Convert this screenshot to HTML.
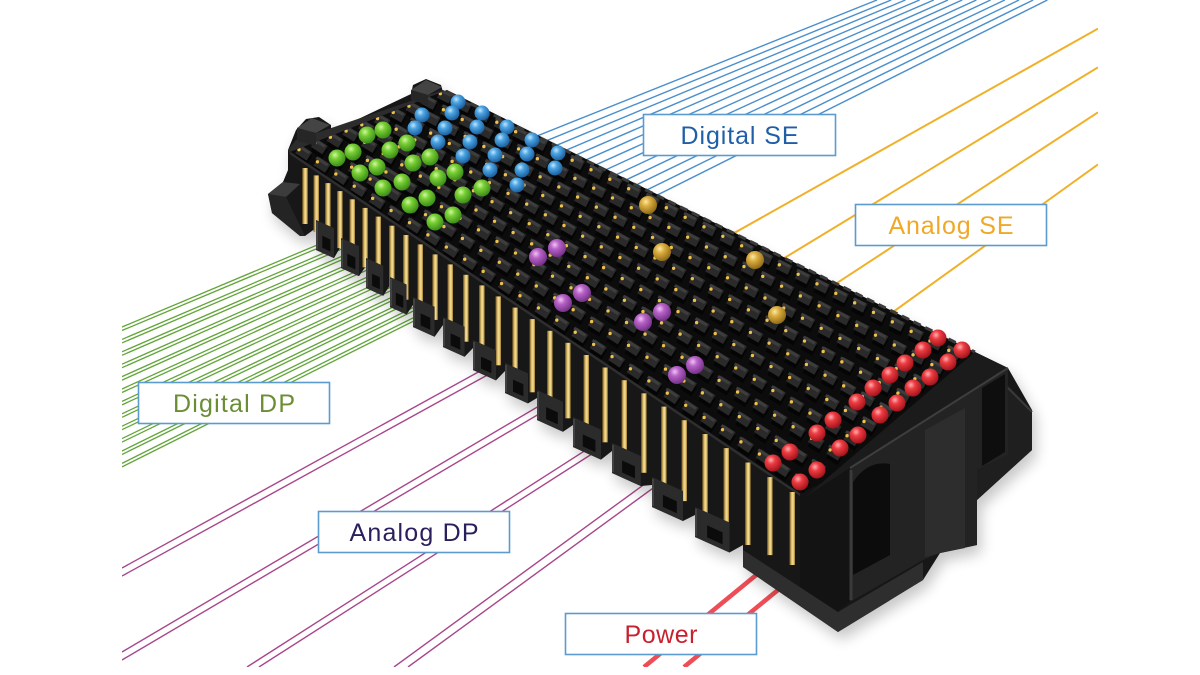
<!DOCTYPE html>
<html><head><meta charset="utf-8"><style>
html,body{margin:0;padding:0;background:#fff;width:1200px;height:675px;overflow:hidden}
svg{display:block}
text{font-family:"Liberation Sans",sans-serif;font-size:25px}
</style></head><body>
<svg width="1200" height="675" viewBox="0 0 1200 675" xmlns="http://www.w3.org/2000/svg">
<defs>
<clipPath id="cl"><rect x="122" y="0" width="976" height="667"/></clipPath>
<clipPath id="topc"><polygon points="290,152 447,90 975,352 805,497"/></clipPath>
<filter id="bl" x="-10%" y="-10%" width="120%" height="130%"><feGaussianBlur stdDeviation="7"/></filter>
<radialGradient id="gb" cx="38%" cy="32%" r="70%"><stop offset="0" stop-color="#c4e6ff"/><stop offset=".35" stop-color="#4ba4e2"/><stop offset="1" stop-color="#1a5c9c"/></radialGradient>
<radialGradient id="gg" cx="38%" cy="32%" r="70%"><stop offset="0" stop-color="#d4f7a0"/><stop offset=".35" stop-color="#78cf35"/><stop offset="1" stop-color="#3a8a16"/></radialGradient>
<radialGradient id="gp" cx="38%" cy="32%" r="70%"><stop offset="0" stop-color="#f0c4f4"/><stop offset=".35" stop-color="#b862c8"/><stop offset="1" stop-color="#723085"/></radialGradient>
<radialGradient id="gy" cx="38%" cy="32%" r="70%"><stop offset="0" stop-color="#fbe9a6"/><stop offset=".35" stop-color="#dcae40"/><stop offset="1" stop-color="#8e6a16"/></radialGradient>
<radialGradient id="gr" cx="38%" cy="32%" r="70%"><stop offset="0" stop-color="#ffb0b0"/><stop offset=".35" stop-color="#ec3c42"/><stop offset="1" stop-color="#a2121a"/></radialGradient>
<linearGradient id="pin" x1="0" x2="1" y1="0" y2="0"><stop offset="0" stop-color="#6e5420"/><stop offset=".4" stop-color="#e9c872"/><stop offset=".65" stop-color="#f5dd96"/><stop offset="1" stop-color="#9c7a2c"/></linearGradient>
<path id="sil" d="M296,130 L306,119 L319,117 L331,125 L331,132 L411,94 L413,85 L426,79 L441,85 L443,92 L975,352 L1008,368 L1032,410 L1032,450 L977,500 L977,545 L940,553 L923,580 L838,632 L743,567 L743,545 L729.5,552.5 L695,537 L695,515 L683,521 L652,507 L652,485 L640.8,486 L612,473 L612,451 L601,459.6 L573,447 L573,425 L563,431.7 L537,420 L537,398 L528,403.4 L505,393 L505,371 L496,380.4 L473,370 L473,348 L464.6,356.7 L443,347 L443,325 L434.6,336.7 L413,327 L413,305 L406.6,314.5 L390,307 L390,285 L383.3,295.8 L366,288 L366,266 L359,276.1 L341,268 L341,246 L334,258.1 L316,250 L316,228 L305,236 L300,236 L272,213 L268,194 L283,182 L288,170 L288,150 Z"/>
<g id="rp">
<path pathLength="28" d="M297.9 148.9L813.5 489.8"/>
<path pathLength="28" d="M313.6 142.7L830.5 475.3"/>
<path pathLength="28" d="M329.3 136.5L847.5 460.8"/>
<path pathLength="28" d="M345 130.3L864.5 446.3"/>
<path pathLength="28" d="M360.7 124.1L881.5 431.8"/>
<path pathLength="28" d="M376.4 117.9L898.5 417.3"/>
<path pathLength="28" d="M392.1 111.7L915.5 402.8"/>
<path pathLength="28" d="M407.8 105.5L932.5 388.3"/>
<path pathLength="28" d="M423.5 99.3L949.5 373.8"/>
<path pathLength="28" d="M439.2 93.1L966.5 359.3"/>
</g>
</defs>

<rect width="1200" height="675" fill="#fff"/>

<!-- lines -->
<g clip-path="url(#cl)" fill="none">
<g stroke="#4a8fcc" stroke-width="1.4">
<path d="M500 150.8L877 0"/><path d="M500 159.7L891.2 0"/><path d="M500 168.9L905.4 0"/><path d="M500 178.3L919.6 0"/><path d="M500 188L933.8 0"/><path d="M500 197.9L948 0"/><path d="M500 208L962.2 0"/><path d="M500 218.3L976.4 0"/><path d="M500 229L990.6 0"/><path d="M500 239.8L1004.8 0"/><path d="M500 250.8L1019 0"/><path d="M500 262.2L1033.2 0"/><path d="M500 273.7L1047.4 0"/>
</g>
<g stroke="#f0b12a" stroke-width="2">
<path d="M700 252.2L1098 28.6"/><path d="M750 278.9L1098 67.3"/><path d="M800 307.2L1098 112.3"/><path d="M860 335.8L1098 164.4"/>
</g>
<g stroke="#62a53a" stroke-width="1.3">
<path d="M122 327L450 189.2"/><path d="M122 330.5L450 192.7"/>
<path d="M122 339.4L450 199.2"/><path d="M122 342.9L450 202.7"/>
<path d="M122 351.8L450 209.3"/><path d="M122 355.3L450 212.8"/>
<path d="M122 364.2L450 219.3"/><path d="M122 367.7L450 222.8"/>
<path d="M122 376.6L450 229.3"/><path d="M122 380.1L450 232.8"/>
<path d="M122 389L450 239.3"/><path d="M122 392.5L450 242.8"/>
<path d="M122 401.4L450 249.3"/><path d="M122 404.9L450 252.8"/>
<path d="M122 413.8L450 259.3"/><path d="M122 417.3L450 262.8"/>
<path d="M122 426.2L450 269.4"/><path d="M122 429.7L450 272.9"/>
<path d="M122 438.6L450 279.4"/><path d="M122 442.1L450 282.9"/>
<path d="M122 451L450 289.4"/><path d="M122 454.5L450 292.9"/>
<path d="M122 463.4L450 299.4"/><path d="M122 466.9L450 302.9"/>
</g>
<g stroke="#a8468a" stroke-width="1.4">
<path d="M122 568L560 327.1"/><path d="M122 576L560 335.1"/>
<path d="M122 652L600 370"/><path d="M122 660L600 378"/>
<path d="M247 667L650 409"/><path d="M259 667L650 416.8"/>
<path d="M394 667L700 443.6"/><path d="M408 667L700 453.8"/>
</g>
<g stroke="#ec3a42" stroke-width="4.5" stroke-opacity=".9">
<path d="M644 667L790 547.3"/><path d="M684 667L790 580.1"/>
</g>
</g>

<!-- shadow -->
<use href="#sil" transform="translate(4,8)" fill="#000" opacity=".22" filter="url(#bl)"/>
<!-- body -->
<use href="#sil" fill="#171717"/>

<!-- left end wall top -->
<polygon points="288,150 296,140 443,90 447,92 447,96 292,156" fill="#2c2c2c"/>

<!-- top surface -->
<polygon points="290,152 447,90 975,352 805,497" fill="#0c0c0c"/>
<g clip-path="url(#topc)" fill="none">
<use href="#rp" transform="translate(0,4)" stroke="#050505" stroke-width="11" stroke-dasharray="0.62 0.38"/>
<use href="#rp" stroke="#2a2a2a" stroke-width="10" stroke-dasharray="0.62 0.38"/>
<use href="#rp" transform="translate(0,-3.5)" stroke="#3d3d3d" stroke-width="3" stroke-dasharray="0.62 0.38"/>
<use href="#rp" stroke="#efc04a" stroke-width="3.4" stroke-linecap="round" stroke-dasharray="0 1" stroke-dashoffset="-0.06"/>
</g>
<path d="M447 92L975 352" stroke="#3a3a3a" stroke-width="3" stroke-dasharray="8 5" fill="none"/>
<path d="M290 153L805 498" stroke="#2e2e2e" stroke-width="2.5" fill="none"/>

<!-- pins -->
<g fill="url(#pin)">
<rect x="302.25" y="168" width="5.5" height="56"/>
<rect x="313.5" y="175.4" width="5.5" height="56.4"/>
<rect x="325.1" y="183.1" width="5.5" height="56.4"/>
<rect x="337.1" y="191.1" width="5.5" height="57"/>
<rect x="349.5" y="199.3" width="5.5" height="58.3"/>
<rect x="362.3" y="207.9" width="5.5" height="59.5"/>
<rect x="375.5" y="216.6" width="5.5" height="60.7"/>
<rect x="389.1" y="225.7" width="5.5" height="62.4"/>
<rect x="403.1" y="235" width="5.5" height="64.7"/>
<rect x="417.5" y="244.4" width="5.5" height="66"/>
<rect x="432.3" y="254.4" width="5.5" height="65.5"/>
<rect x="447.5" y="264.4" width="5.5" height="65.8"/>
<rect x="463.1" y="274.8" width="5.5" height="66.9"/>
<rect x="479.1" y="285.4" width="5.5" height="68.1"/>
<rect x="495.5" y="296.4" width="5.5" height="68.9"/>
<rect x="512.3" y="307.6" width="5.5" height="70.4"/>
<rect x="529.5" y="319.1" width="5.5" height="73.2"/>
<rect x="547.1" y="330.8" width="5.5" height="74.3"/>
<rect x="565.1" y="342.8" width="5.5" height="75.5"/>
<rect x="583.5" y="355" width="5.5" height="75.4"/>
<rect x="602.3" y="367.5" width="5.5" height="74.8"/>
<rect x="621.5" y="380.2" width="5.5" height="76.5"/>
<rect x="641.1" y="393.3" width="5.5" height="79.5"/>
<rect x="661.1" y="406.6" width="5.5" height="80.8"/>
<rect x="681.5" y="420.2" width="5.5" height="80.9"/>
<rect x="702.3" y="434" width="5.5" height="80.6"/>
<rect x="723.5" y="448.1" width="5.5" height="79.2"/>
<rect x="745.1" y="462.5" width="5.5" height="82.5"/>
<rect x="767.1" y="477.1" width="5.5" height="78"/>
<rect x="789.5" y="492" width="5.5" height="73"/>
</g>

<!-- front bottom blocks -->
<g fill="#2b2b2b">
<polygon points="316,250 334,258.1 334,228.1 316,220"/>
<polygon points="341,268 359,276.1 359,246.1 341,238"/>
<polygon points="366,288 383.3,295.8 383.3,265.8 366,258"/>
<polygon points="390,307 406.6,314.5 406.6,284.5 390,277"/>
<polygon points="413,327 434.6,336.7 434.6,306.7 413,297"/>
<polygon points="443,347 464.6,356.7 464.6,326.7 443,317"/>
<polygon points="473,370 496,380.4 496,350.4 473,340"/>
<polygon points="505,393 528,403.4 528,373.4 505,363"/>
<polygon points="537,420 563,431.7 563,401.7 537,390"/>
<polygon points="573,447 601,459.6 601,429.6 573,417"/>
<polygon points="612,473 640.8,486 640.8,456 612,443"/>
<polygon points="652,507 683,521 683,491 652,477"/>
<polygon points="695,537 729.5,552.5 729.5,522.5 695,507"/>
</g>
<g fill="#0b0b0b">
<polygon points="322.3,247.8 330.4,251.5 330.4,239.5 322.3,235.8"/>
<polygon points="347.3,265.8 355.4,269.5 355.4,257.5 347.3,253.8"/>
<polygon points="372.1,285.7 379.8,289.2 379.8,277.2 372.1,273.7"/>
<polygon points="395.8,304.6 403.3,308 403.3,296 395.8,292.6"/>
<polygon points="420.6,325.4 430.3,329.8 430.3,317.8 420.6,313.4"/>
<polygon points="450.6,345.4 460.3,349.8 460.3,337.8 450.6,333.4"/>
<polygon points="481,368.6 491.4,373.3 491.4,361.3 481,356.6"/>
<polygon points="513,391.6 523.4,396.3 523.4,384.3 513,379.6"/>
<polygon points="546.1,419.1 557.8,424.4 557.8,412.4 546.1,407.1"/>
<polygon points="582.8,446.4 595.4,452.1 595.4,440.1 582.8,434.4"/>
<polygon points="622.1,472.5 635,478.4 635,466.4 622.1,460.5"/>
<polygon points="662.9,506.9 676.8,513.2 676.8,501.2 662.9,494.9"/>
<polygon points="707.1,537.4 722.6,544.4 722.6,532.4 707.1,525.4"/>
</g>
<g stroke="#414141" stroke-width="2" fill="none">
<path d="M317 222V249"/><path d="M342 240V267"/><path d="M367 260V287"/><path d="M391 279V306"/><path d="M414 299V326"/><path d="M444 319V346"/><path d="M474 342V369"/><path d="M506 365V392"/><path d="M538 392V419"/><path d="M574 419V446"/><path d="M613 445V472"/><path d="M653 479V506"/><path d="M696 509V536"/>
</g>

<!-- right end housing -->
<polygon points="850,468 1008,368 1008,455 977,470 977,545 940,553 923,560 850,602" fill="#232323"/>
<polygon points="925,430 965,408 965,548 940,553 925,557" fill="#2d2d2d"/>
<polygon points="982,388 1005,374 1005,452 982,466" fill="#0e0e0e"/>
<polygon points="1008,385 1032,410 1032,450 977,500 977,470 1008,455" fill="#1f1f1f"/>
<path d="M1008,388 L1032,412" stroke="#3a3a3a" stroke-width="2"/>
<polygon points="800,494 850,468 850,602 838,612 800,590" fill="#131313"/>
<path d="M853,575 L853,482 Q868,460 890,464 L890,555 Z" fill="#0c0c0c"/>
<path d="M851,470 L851,600" stroke="#3a3a3a" stroke-width="3"/>
<polygon points="743,550 838,612 923,562 923,580 838,632 743,567" fill="#2e2e2e"/>
<polygon points="805,497 975,352 1008,368 850,468" fill="#1b1b1b"/>
<path d="M850,468 L1008,368" stroke="#3e3e3e" stroke-width="2"/>

<!-- left end posts & tab -->
<polygon points="297,128 312,118 330,125 316,133" fill="#444"/>
<polygon points="297,128 316,133 316,146 297,141" fill="#262626"/>
<polygon points="411,90 426,80 442,87 428,95" fill="#444"/>
<polygon points="411,90 428,95 428,105 411,100" fill="#262626"/>
<polygon points="268,194 283,182 300,184 286,197" fill="#3c3c3c"/>
<polygon points="268,194 286,197 305,236 300,236 272,213" fill="#242424"/>

<!-- balls -->
<g fill="url(#gb)">
<circle cx="458" cy="102" r="7.5"/><circle cx="422" cy="115" r="7.5"/><circle cx="452" cy="113" r="7.5"/><circle cx="482" cy="113" r="7.5"/>
<circle cx="415" cy="128" r="7.5"/><circle cx="445" cy="128" r="7.5"/><circle cx="477" cy="127" r="7.5"/><circle cx="507" cy="127" r="7.5"/>
<circle cx="438" cy="142" r="7.5"/><circle cx="470" cy="142" r="7.5"/><circle cx="502" cy="140" r="7.5"/><circle cx="532" cy="140" r="7.5"/>
<circle cx="463" cy="156" r="7.5"/><circle cx="495" cy="155" r="7.5"/><circle cx="527" cy="154" r="7.5"/><circle cx="558" cy="153" r="7.5"/>
<circle cx="490" cy="170" r="7.5"/><circle cx="522" cy="170" r="7.5"/><circle cx="555" cy="168" r="7.5"/><circle cx="517" cy="185" r="7.5"/>
</g>
<g fill="url(#gg)">
<circle cx="383" cy="130" r="8.5"/><circle cx="367" cy="135" r="8.5"/>
<circle cx="407" cy="143" r="8.5"/><circle cx="390" cy="150" r="8.5"/>
<circle cx="353" cy="152" r="8.5"/><circle cx="337" cy="158" r="8.5"/>
<circle cx="430" cy="157" r="8.5"/><circle cx="413" cy="163" r="8.5"/>
<circle cx="377" cy="167" r="8.5"/><circle cx="360" cy="173" r="8.5"/>
<circle cx="455" cy="172" r="8.5"/><circle cx="438" cy="178" r="8.5"/>
<circle cx="402" cy="182" r="8.5"/><circle cx="383" cy="188" r="8.5"/>
<circle cx="482" cy="188" r="8.5"/><circle cx="463" cy="195" r="8.5"/>
<circle cx="427" cy="198" r="8.5"/><circle cx="410" cy="205" r="8.5"/>
<circle cx="453" cy="215" r="8.5"/><circle cx="435" cy="222" r="8.5"/>
</g>
<g fill="url(#gp)">
<circle cx="557" cy="248" r="9"/><circle cx="538" cy="257" r="9"/>
<circle cx="582" cy="293" r="9"/><circle cx="563" cy="303" r="9"/>
<circle cx="662" cy="312" r="9"/><circle cx="643" cy="322" r="9"/>
<circle cx="695" cy="365" r="9"/><circle cx="677" cy="375" r="9"/>
</g>
<g fill="url(#gy)">
<circle cx="648" cy="205" r="9"/><circle cx="662" cy="252" r="9"/><circle cx="755" cy="260" r="9"/><circle cx="777" cy="315" r="9"/>
</g>
<g fill="url(#gr)">
<circle cx="938" cy="338" r="8.5"/><circle cx="923" cy="350" r="8.5"/>
<circle cx="962" cy="350" r="8.5"/><circle cx="948" cy="362" r="8.5"/>
<circle cx="905" cy="363" r="8.5"/><circle cx="890" cy="375" r="8.5"/>
<circle cx="930" cy="377" r="8.5"/><circle cx="913" cy="388" r="8.5"/>
<circle cx="873" cy="388" r="8.5"/><circle cx="857" cy="402" r="8.5"/>
<circle cx="897" cy="403" r="8.5"/><circle cx="880" cy="415" r="8.5"/>
<circle cx="833" cy="420" r="8.5"/><circle cx="817" cy="433" r="8.5"/>
<circle cx="858" cy="435" r="8.5"/><circle cx="840" cy="448" r="8.5"/>
<circle cx="790" cy="452" r="8.5"/><circle cx="773" cy="463" r="8.5"/>
<circle cx="817" cy="470" r="8.5"/><circle cx="800" cy="482" r="8.5"/>
</g>

<!-- labels -->
<g fill="#fff" stroke="#5b9bd0" stroke-width="1.6">
<rect x="643.5" y="114.5" width="192" height="41"/>
<rect x="855.5" y="204.5" width="191" height="41"/>
<rect x="138.5" y="382.5" width="191" height="41"/>
<rect x="318.5" y="511.5" width="191" height="41"/>
<rect x="565.5" y="613.5" width="191" height="41"/>
</g>
<g text-anchor="middle">
<text x="739.5" y="144" fill="#1f5fa8" textLength="118" lengthAdjust="spacing">Digital SE</text>
<text x="951" y="234" fill="#f0a828" textLength="125" lengthAdjust="spacing">Analog SE</text>
<text x="234" y="412" fill="#6b8e35" textLength="122" lengthAdjust="spacing">Digital DP</text>
<text x="414" y="541" fill="#2a1f5c" textLength="129" lengthAdjust="spacing">Analog DP</text>
<text x="661" y="643" fill="#c8202e" textLength="73" lengthAdjust="spacing">Power</text>
</g>
</svg>
</body></html>
